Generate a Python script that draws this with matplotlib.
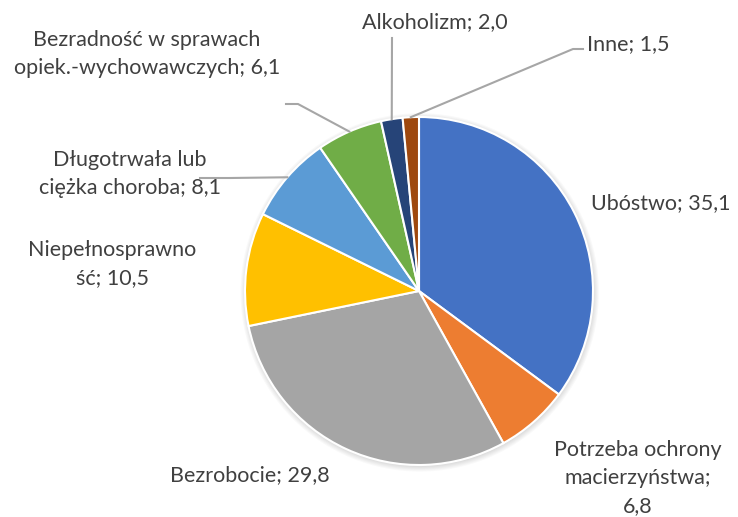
import numpy as np
import matplotlib.pyplot as plt
from matplotlib.patches import Circle

labels = ["Ubóstwo", "Potrzeba ochrony\nmacierzyństwa;\n", "Bezrobocie",
          "Niepełnosprawno\nść", "Długotrwała lub\nciężka choroba",
          "Bezradność w sprawach\nopiek.-wychowawczych", "Alkoholizm", "Inne"]
values = [35.1, 6.8, 29.8, 10.5, 8.1, 6.1, 2.0, 1.5]
colors = ["#4472C4", "#ED7D31", "#A5A5A5", "#FFC000", "#5B9BD5",
          "#70AD47", "#264478", "#9E480E"]

plt.rcParams['font.family'] = ['Lato', 'DejaVu Sans']

W, H = 738, 517
CX, CY, R = 419, 291, 174


def d(px, py):
    # pixel -> data coordinates (pie radius = 1)
    return (px - CX) / R, (CY - py) / R


fig = plt.figure(figsize=(W / 100, H / 100), dpi=100)
ax = fig.add_axes([0, 0, 1, 1])

# soft shadow
for i in range(6):
    ax.add_patch(Circle((0.004, -0.008), 1 + 0.006 * i, color='black',
                        alpha=0.025, lw=0, zorder=0))

wedges, _ = ax.pie(values, colors=colors, startangle=90, counterclock=False,
                   radius=1, center=(0, 0), frame=True,
                   wedgeprops=dict(edgecolor='white', linewidth=1.5))
ax.set_xlim(-CX / R, (W - CX) / R)
ax.set_ylim(-(H - CY) / R, CY / R)
ax.axis('off')

texts = [f"{l}; {str(v).replace('.', ',')}" if not l.endswith('\n') else
         f"{l}{str(v).replace('.', ',')}" for l, v in zip(labels, values)]

# label positions (pixel, alignment)
pos = [((591, 203), 'left'), ((638, 478), 'center'), ((250, 475), 'center'),
       ((112, 264), 'center'), ((130, 174), 'center'), ((147, 54), 'center'),
       ((435, 22), 'center'), ((587, 44), 'left')]

for t, ((px, py), ha) in zip(texts, pos):
    x, y = d(px, py)
    ax.text(x, y, t, ha=ha, va='center', fontsize=15.5, color='#404040',
            linespacing=1.5)

# leader lines: from wedge edge at mid-angle to elbows
elbows = {4: [(230, 178), (200, 178)],
          5: [(298, 104), (286, 104)],
          6: [(392, 38)],
          7: [(573, 49), (583, 49)]}
for i, pts in elbows.items():
    w = wedges[i]
    ang = np.deg2rad((w.theta1 + w.theta2) / 2)
    xs = [np.cos(ang)] + [d(*p)[0] for p in pts]
    ys = [np.sin(ang)] + [d(*p)[1] for p in pts]
    ax.plot(xs, ys, color='#A6A6A6', lw=1.5, zorder=1)

fig.savefig("out.png", dpi=100)
